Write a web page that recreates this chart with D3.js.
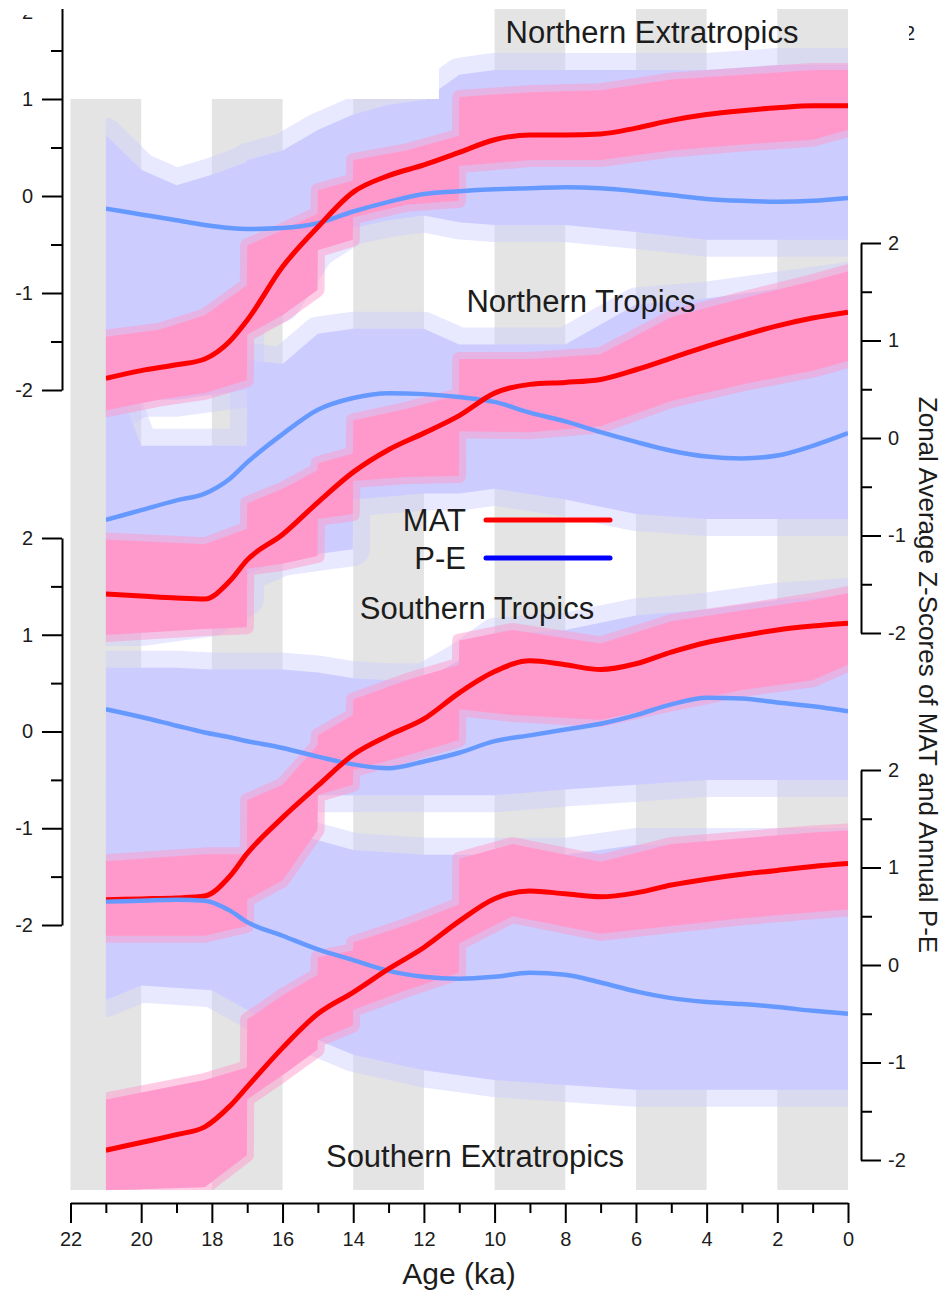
<!DOCTYPE html>
<html>
<head>
<meta charset="utf-8">
<script src="https://cdn.jsdelivr.net/npm/d3@7"></script>
<style>
  body { margin: 0; background: #fff; }
  svg { display: block; }
  text { font-family: "Liberation Sans", Arial, sans-serif; fill: #1c1c1c; }
</style>
</head>
<body>
<svg id="chart" width="945" height="1290"></svg>
<script>
// Zonal average z-scores of MAT (red) and annual P-E (blue), 21 ka to present.
// Smooth curves share one age grid; the high-frequency spread is kept as
// [age, low, high] envelopes (near-duplicate ages = segment jumps).

const ages = [21, 20, 19, 18.2, 17.5, 17, 16, 15, 14, 13, 12, 11, 10, 9, 8, 7, 6, 5, 4, 3, 2, 1, 0];

const matNE = [-1.88, -1.80, -1.74, -1.68, -1.50, -1.28, -0.73, -0.32, 0.04, 0.21, 0.32, 0.45, 0.58, 0.63, 0.63, 0.64, 0.70, 0.78, 0.84, 0.88, 0.91, 0.93, 0.93];
const peNE  = [-0.13, -0.19, -0.25, -0.30, -0.33, -0.34, -0.33, -0.28, -0.16, -0.06, 0.02, 0.05, 0.07, 0.08, 0.09, 0.08, 0.05, 0.01, -0.03, -0.05, -0.06, -0.05, -0.02];

const matNT = [-1.60, -1.62, -1.64, -1.65, -1.47, -1.25, -0.99, -0.66, -0.35, -0.12, 0.05, 0.23, 0.46, 0.55, 0.57, 0.60, 0.70, 0.82, 0.94, 1.05, 1.15, 1.23, 1.29];
const peNT  = [-0.84, -0.74, -0.64, -0.57, -0.42, -0.25, 0.04, 0.29, 0.41, 0.46, 0.45, 0.42, 0.37, 0.26, 0.17, 0.06, -0.04, -0.13, -0.19, -0.21, -0.18, -0.08, 0.05];

const matST = [-1.74, -1.73, -1.72, -1.70, -1.50, -1.26, -0.89, -0.56, -0.24, -0.04, 0.13, 0.40, 0.62, 0.73, 0.69, 0.64, 0.70, 0.82, 0.92, 0.99, 1.05, 1.09, 1.12];
const peST  = [0.23, 0.15, 0.06, -0.01, -0.06, -0.10, -0.17, -0.26, -0.34, -0.38, -0.31, -0.22, -0.10, -0.04, 0.02, 0.08, 0.17, 0.28, 0.35, 0.34, 0.30, 0.26, 0.21];

const matSE = [-1.90, -1.82, -1.74, -1.66, -1.45, -1.25, -0.85, -0.50, -0.28, -0.04, 0.18, 0.45, 0.68, 0.76, 0.73, 0.70, 0.74, 0.82, 0.88, 0.93, 0.97, 1.01, 1.04];
const peSE  = [0.65, 0.66, 0.67, 0.66, 0.56, 0.44, 0.30, 0.16, 0.05, -0.06, -0.12, -0.14, -0.12, -0.08, -0.10, -0.18, -0.27, -0.34, -0.38, -0.40, -0.43, -0.47, -0.50];

// MAT annual spread: [age, low, high]
const matBandNE = [[21, -2.21, -1.45], [19.5, -2.10, -1.38], [18.2, -2.03, -1.23], [17.01, -1.90, -0.92], [17, -1.43, -0.51], [16, -1.23, -0.35], [15.01, -0.97, -0.18], [15, -0.56, 0.06], [14.01, -0.45, 0.16], [14, -0.22, 0.37], [12.5, -0.09, 0.47], [11.01, -0.05, 0.62], [11, 0.31, 1.02], [9, 0.37, 1.07], [7, 0.37, 1.09], [5, 0.47, 1.20], [3, 0.53, 1.25], [1, 0.58, 1.30], [0, 0.68, 1.30]];
const matBandNT = [[21, -2.02, -1.04], [18.2, -1.96, -1.09], [17.01, -1.94, -0.93], [17, -1.34, -0.67], [16, -1.29, -0.52], [15.01, -1.21, -0.33], [15, -0.83, -0.26], [14.01, -0.78, -0.16], [14, -0.44, 0.18], [12.5, -0.40, 0.30], [11.01, -0.39, 0.44], [11, 0.07, 0.81], [9, 0.06, 0.81], [7, 0.12, 0.86], [5, 0.38, 1.24], [3, 0.55, 1.43], [1, 0.69, 1.61], [0, 0.79, 1.71]];
const matBandST = [[21, -2.11, -1.34], [18.2, -2.11, -1.27], [17.01, -2.01, -1.27], [17, -1.74, -0.71], [16, -1.54, -0.55], [15.01, -1.02, -0.14], [15, -0.66, -0.04], [14.01, -0.55, 0.17], [14, -0.40, 0.33], [12.5, -0.25, 0.53], [11.01, -0.09, 0.69], [11, 0.23, 0.94], [9.5, 0.17, 1.05], [7, 0.12, 0.91], [5, 0.28, 1.14], [3, 0.43, 1.25], [1, 0.53, 1.36], [0, 0.69, 1.43]];
const matBandSE = [[21, -2.31, -1.38], [18.2, -2.28, -1.18], [17.01, -1.95, -1.05], [17, -1.38, -0.56], [16, -1.13, -0.31], [15.01, -0.87, -0.10], [15, -0.77, 0.08], [14.01, -0.62, 0.15], [14, -0.46, 0.23], [12.5, -0.26, 0.41], [11.01, -0.08, 0.62], [11, 0.22, 1.09], [9.5, 0.50, 1.24], [7, 0.32, 1.06], [5, 0.40, 1.24], [3, 0.48, 1.30], [1, 0.54, 1.36], [0, 0.57, 1.38]];

// P-E annual spread: [age, low, high]
const peBandNE = [[21, -2.31, 0.63], [20, -2.10, 0.27], [19, -2.10, 0.11], [18, -2.05, 0.22], [17.01, -2.00, 0.35], [17, -1.28, 0.37], [16, -1.12, 0.47], [15, -0.56, 0.68], [14, -0.33, 0.84], [13, -0.25, 0.94], [12, -0.20, 0.99], [11, -0.27, 1.25], [10, -0.30, 1.30], [8, -0.30, 1.30], [6, -0.37, 1.30], [4, -0.45, 1.30], [2, -0.45, 1.35], [0, -0.45, 1.35]];
const peBandNT = [[21, -1.96, 0.40], [20.4, -1.96, 0.30], [20, -1.96, -0.08], [19, -1.91, -0.08], [18, -1.86, -0.08], [17.01, -1.65, -0.08], [17, -1.40, 0.80], [16, -1.24, 0.76], [15, -1.19, 1.07], [14.01, -1.14, 1.12], [14, -0.63, 1.12], [12, -0.57, 1.12], [11, -0.57, 0.96], [10, -0.52, 0.96], [8, -0.63, 0.96], [6, -0.78, 1.37], [4, -0.83, 1.43], [2, -0.83, 1.53], [0, -0.83, 1.63]];
const peBandST = [[21, -0.71, 0.66], [19, -0.71, 0.66], [18, -0.71, 0.64], [17, -0.81, 0.64], [16, -0.66, 0.64], [15, -0.66, 0.61], [14, -0.66, 0.55], [13, -0.66, 0.53], [12, -0.66, 0.53], [11, -0.66, 0.74], [10, -0.66, 1.00], [8, -0.60, 1.05], [6, -0.55, 1.20], [4, -0.50, 1.26], [2, -0.50, 1.36], [0, -0.50, 1.41]];
const peBandSE = [[21, -0.36, 1.90], [20, -0.21, 1.90], [18, -0.26, 1.79], [17, -0.46, 1.69], [16, -0.67, 1.38], [15, -0.77, 1.28], [14, -0.92, 1.18], [12, -1.08, 1.13], [11, -1.13, 1.13], [10, -1.18, 1.13], [8, -1.23, 1.13], [6, -1.28, 1.23], [4, -1.28, 1.23], [2, -1.28, 1.23], [0, -1.28, 1.23]];

const shadedSpans = [[22, 20], [18, 16], [14, 12], [10, 8], [6, 4], [2, 0]];
const ageTicks = d3.range(22, -1, -1);
const zMajor = [-2, -1, 0, 1, 2];
const zMinor = [-1.5, -0.5, 0.5, 1.5];

const regionNames = ["Northern Extratropics", "Northern Tropics", "Southern Tropics", "Southern Extratropics"];
const legendItems = ["MAT", "P-E"];

// ---------------------------------------------------------------------------

const PLOT_TOP = 9, PLOT_BOTTOM = 1190;
const LAVENDER = "#ccccff", PINK = "#ff99cc", RED = "#ff0000", BLUE = "#6699ff", SHADE = "#e4e4e4";

const svg = d3.select("#chart");

const x = d3.scaleLinear().domain([22, 0]).range([70.5, 848]);
const yNE = d3.scaleLinear().domain([-2, 2]).range([390, 2]);
const yNT = d3.scaleLinear().domain([-2, 2]).range([633, 243]);
const yST = d3.scaleLinear().domain([-2, 2]).range([925, 538]);
const ySE = d3.scaleLinear().domain([-2, 2]).range([1160, 770]);

const regions = [
  { y: yNE, mat: matNE, pe: peNE, matBand: matBandNE, peBand: peBandNE },
  { y: yNT, mat: matNT, pe: peNT, matBand: matBandNT, peBand: peBandNT },
  { y: yST, mat: matST, pe: peST, matBand: matBandST, peBand: peBandST },
  { y: ySE, mat: matSE, pe: peSE, matBand: matBandSE, peBand: peBandSE },
];

svg.append("defs").append("clipPath").attr("id", "data-clip")
  .append("rect")
  .attr("x", x(21)).attr("y", PLOT_TOP)
  .attr("width", x(0) - x(21)).attr("height", PLOT_BOTTOM - PLOT_TOP);

// Alternate 2-kyr shading.
svg.append("g").selectAll("rect")
  .data(shadedSpans)
  .join("rect")
  .attr("x", d => x(d[0]))
  .attr("width", d => x(d[1]) - x(d[0]))
  .attr("y", PLOT_TOP)
  .attr("height", PLOT_BOTTOM - PLOT_TOP)
  .attr("fill", SHADE);

const data = svg.append("g").attr("clip-path", "url(#data-clip)");

function band(y) {
  return d3.area()
    .x(d => x(d[0]))
    .y0(d => y(d[1]))
    .y1(d => y(d[2]));
}

// P-E spread first, MAT spread over it; the wide pale stroke stands in for the spiky fringe.
regions.forEach(r => {
  data.append("path")
    .attr("d", band(r.y)(r.peBand))
    .attr("fill", LAVENDER)
    .attr("stroke", LAVENDER)
    .attr("stroke-opacity", 0.45)
    .attr("stroke-width", 34)
    .attr("stroke-linejoin", "round")
    .style("paint-order", "stroke");
});
regions.forEach(r => {
  data.append("path")
    .attr("d", band(r.y)(r.matBand))
    .attr("fill", PINK)
    .attr("stroke", PINK)
    .attr("stroke-opacity", 0.5)
    .attr("stroke-width", 14)
    .attr("stroke-linejoin", "round")
    .style("paint-order", "stroke");
});

regions.forEach(r => {
  const line = d3.line()
    .x((d, i) => x(ages[i]))
    .y(d => r.y(d))
    .curve(d3.curveMonotoneX);
  data.append("path")
    .attr("d", line(r.pe))
    .attr("fill", "none")
    .attr("stroke", BLUE)
    .attr("stroke-width", 4.5);
  data.append("path")
    .attr("d", line(r.mat))
    .attr("fill", "none")
    .attr("stroke", RED)
    .attr("stroke-width", 5);
});

// Blank patch over the top-left corner of the plot, as in the original.
svg.append("rect")
  .attr("x", x(22) - 1).attr("y", PLOT_TOP)
  .attr("width", 439 - x(22) + 1).attr("height", 99 - PLOT_TOP)
  .attr("fill", "#fff");

// ---- axes ----
function styleAxis(g) {
  g.selectAll(".domain").attr("stroke", "#000").attr("stroke-width", 2);
  g.selectAll(".tick line").attr("stroke", "#000").attr("stroke-width", 2);
  g.selectAll(".tick text")
    .attr("font-family", '"Liberation Sans", Arial, sans-serif')
    .attr("font-size", 20)
    .attr("fill", "#111");
}

// The top axis' "2" falls off the page in the original, so it is drawn apart below.
function zAxis(scale, side, xPos, hideTop) {
  const make = side === "left" ? d3.axisLeft : d3.axisRight;
  const major = svg.append("g").attr("transform", `translate(${xPos},0)`)
    .call(make(scale).tickValues(zMajor).tickSize(20).tickSizeOuter(0)
      .tickPadding(side === "left" ? 9 : 7)
      .tickFormat(d => (hideTop && d === 2) ? "" : String(d)));
  styleAxis(major);
  const minor = svg.append("g").attr("transform", `translate(${xPos},0)`)
    .call(make(scale).tickValues(zMinor).tickSize(11).tickSizeOuter(0).tickFormat(""));
  minor.select(".domain").remove();
  styleAxis(minor);
}

zAxis(yNE, "left", 62, true);
zAxis(yST, "left", 62, false);
zAxis(yNT, "right", 861, false);
zAxis(ySE, "right", 861, false);

const xMajor = svg.append("g").attr("transform", "translate(0,1203)")
  .call(d3.axisBottom(x).tickValues(ageTicks.filter(d => d % 2 === 0))
    .tickSize(20).tickSizeOuter(0).tickPadding(9).tickFormat(d => String(d)));
styleAxis(xMajor);
const xMinor = svg.append("g").attr("transform", "translate(0,1203)")
  .call(d3.axisBottom(x).tickValues(ageTicks.filter(d => d % 2 === 1))
    .tickSize(10).tickSizeOuter(0).tickFormat(""));
xMinor.select(".domain").remove();
styleAxis(xMinor);

// Top strip of the page is blank in the original (clips the top axis end).
svg.append("rect").attr("x", 0).attr("y", 0).attr("width", 945).attr("height", PLOT_TOP).attr("fill", "#fff");

// Stray fragments of cut-off labels: only their lower / right edges show.
svg.append("text").attr("x", 33).attr("y", 19).attr("text-anchor", "end").attr("font-size", 20).attr("fill", "#111").text("2");
svg.append("rect").attr("x", 0).attr("y", 0).attr("width", 60).attr("height", 15).attr("fill", "#fff");
svg.append("text").attr("x", 904).attr("y", 40).attr("font-size", 20).text("2");
svg.append("rect").attr("x", 880).attr("y", 18).attr("width", 29).attr("height", 30).attr("fill", "#fff");

// ---- text ----
svg.append("text")
  .attr("x", 459).attr("y", 1284)
  .attr("text-anchor", "middle")
  .attr("font-size", 30)
  .text("Age (ka)");

svg.append("text")
  .attr("transform", "translate(919,675) rotate(90)")
  .attr("text-anchor", "middle")
  .attr("font-size", 26)
  .text("Zonal Average Z-Scores of MAT and Annual P-E");

const labelPos = [[652, 43], [581, 312], [477, 619], [475, 1167]];
regionNames.forEach((name, i) => {
  svg.append("text")
    .attr("x", labelPos[i][0]).attr("y", labelPos[i][1])
    .attr("text-anchor", "middle")
    .attr("font-size", 31)
    .text(name);
});

const legendColors = [RED, "#0000ff"];
const legendY = [520, 558];
legendItems.forEach((name, i) => {
  svg.append("text")
    .attr("x", 466).attr("y", legendY[i] + 11)
    .attr("text-anchor", "end")
    .attr("font-size", 31)
    .text(name);
  svg.append("line")
    .attr("x1", 486).attr("x2", 610)
    .attr("y1", legendY[i]).attr("y2", legendY[i])
    .attr("stroke", legendColors[i])
    .attr("stroke-width", 5)
    .attr("stroke-linecap", "round");
});
</script>
</body>
</html>
